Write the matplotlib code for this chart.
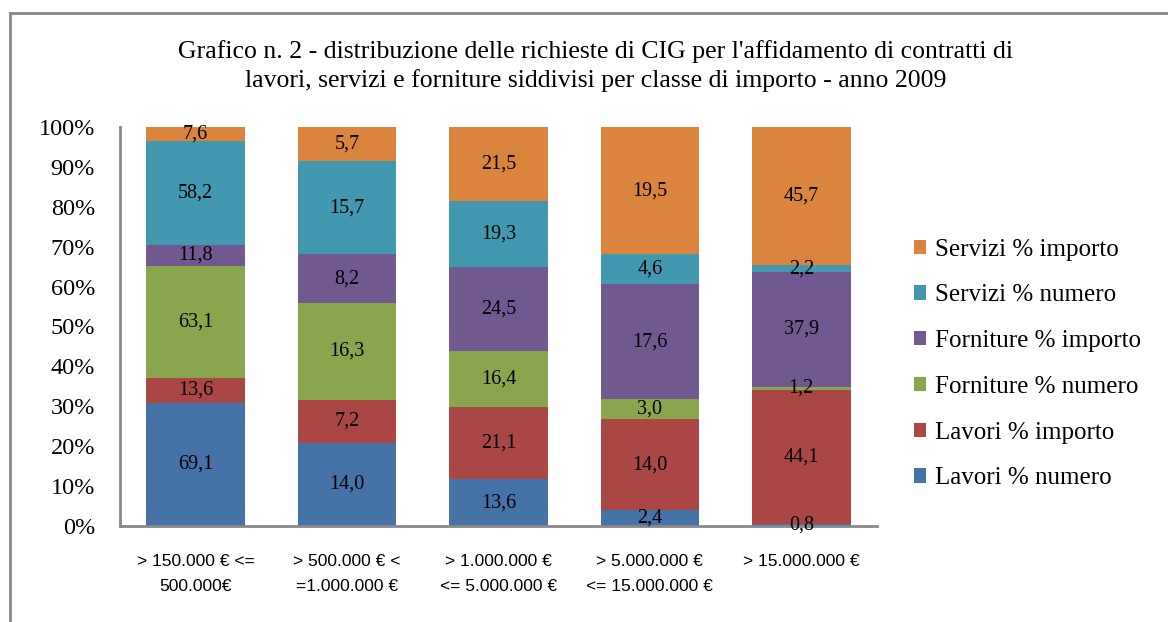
import matplotlib
matplotlib.use("Agg")
import matplotlib.pyplot as plt
import numpy as np
from matplotlib.lines import Line2D
from matplotlib.patches import Patch

categories = ["> 150.000 € <=\n500.000€", "> 500.000 € <\n=1.000.000 €", "> 1.000.000 €\n<= 5.000.000 €",
              "> 5.000.000 €\n<= 15.000.000 €", "> 15.000.000 €"]
series_names = ["Lavori % numero", "Lavori % importo", "Forniture % numero",
                "Forniture % importo", "Servizi % numero", "Servizi % importo"]
lavori_numero = [69.1, 14.0, 13.6, 2.4, 0.8]
lavori_importo = [13.6, 7.2, 21.1, 14.0, 44.1]
forniture_numero = [63.1, 16.3, 16.4, 3.0, 1.2]
forniture_importo = [11.8, 8.2, 24.5, 17.6, 37.9]
servizi_numero = [58.2, 15.7, 19.3, 4.6, 2.2]
servizi_importo = [7.6, 5.7, 21.5, 19.5, 45.7]
colors = ["#4572A7", "#AA4643", "#89A54E", "#71588F", "#4198AF", "#DB843D"]
title = ("Grafico n. 2 - distribuzione delle richieste di CIG per l'affidamento di contratti di\n"
         "lavori, servizi e forniture siddivisi per classe di importo - anno 2009")

data = np.array([lavori_numero, lavori_importo, forniture_numero,
                 forniture_importo, servizi_numero, servizi_importo])
totals = data.sum(axis=0)
pct = data / totals * 100

serif = ["Liberation Serif", "DejaVu Serif"]
sans = ["Liberation Sans", "DejaVu Sans"]

fig = plt.figure(figsize=(11.68, 6.22), dpi=100)
ax = fig.add_axes([120 / 1168, 1 - 526 / 622, (877 - 120) / 1168, (526 - 127) / 622])

x = np.arange(len(categories))
bottom = np.zeros(len(categories))
handles = []
for i, name in enumerate(series_names):
    ax.bar(x, pct[i], bottom=bottom, width=0.65, color=colors[i], label=name, zorder=2)
    for j in range(len(categories)):
        yc = bottom[j] + pct[i][j] / 2
        ax.text(x[j], yc, f"{data[i][j]:.1f}".replace(".", ","), ha="center", va="center",
                fontsize=14.5, family=serif, color="black", clip_on=False, zorder=3)
    bottom += pct[i]
    handles.append(Patch(facecolor=colors[i], label=name))

ax.set_xlim(-0.5, len(categories) - 0.5)
ax.set_ylim(0, 100)
ax.set_yticks(np.arange(0, 101, 10))
ax.set_yticklabels([f"{v}%" for v in range(0, 101, 10)], family=serif, fontsize=17.5)
ax.set_xticks(x)
ax.set_xticklabels(categories, family=sans, fontsize=12.5, linespacing=1.85)
ax.tick_params(axis="both", length=0)
ax.tick_params(axis="y", pad=18)
ax.tick_params(axis="x", pad=20)
for s in ["top", "right"]:
    ax.spines[s].set_visible(False)
for s in ["left", "bottom"]:
    ax.spines[s].set_color("#888888")
    ax.spines[s].set_linewidth(2)

fig.text(596 / 1168, 1 - 66 / 622, title, ha="center", va="center", family=serif,
         fontsize=18.5, linespacing=1.38)

leg = fig.legend(handles=handles[::-1], loc="center left", bbox_to_anchor=(891 / 1168, 1 - 364 / 622),
                 frameon=False, prop={"family": serif, "size": 18}, handlelength=0.5,
                 handleheight=0.5, handletextpad=0.35, labelspacing=0.95)

# outer frame
fig.add_artist(Line2D([10 / 1168, 1.0], [1 - 13 / 622, 1 - 13 / 622], color="#888888", lw=2,
                      transform=fig.transFigure))
fig.add_artist(Line2D([10 / 1168, 10 / 1168], [0, 1 - 13 / 622], color="#888888", lw=2,
                      transform=fig.transFigure))

fig.savefig("out.png", dpi=100)
